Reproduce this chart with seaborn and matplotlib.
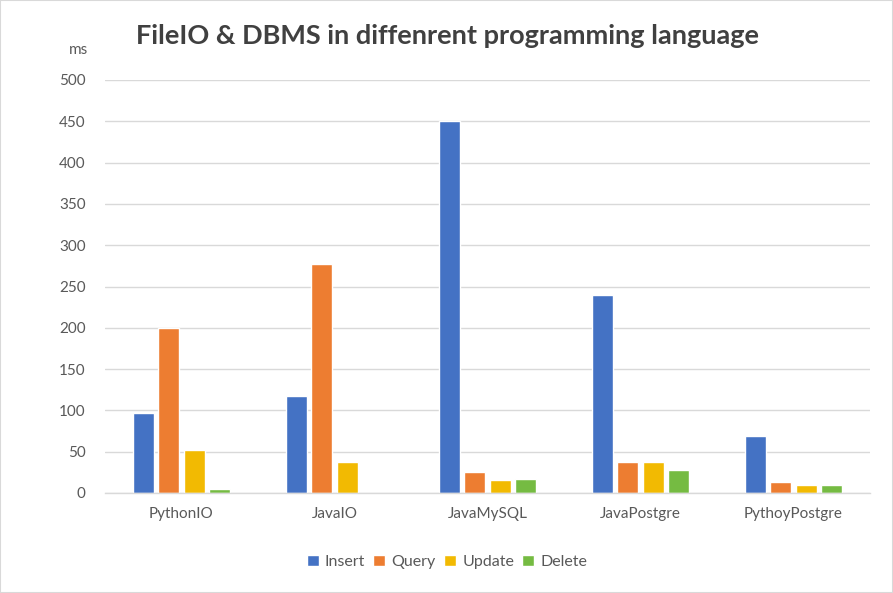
import numpy as np
import pandas as pd
import matplotlib
matplotlib.use("Agg")
import matplotlib.pyplot as plt
import seaborn as sns

categories = ["PythonIO", "JavaIO", "JavaMySQL", "JavaPostgre", "PythoyPostgre"]
operations = ["Insert", "Query", "Update", "Delete"]
insert = [97, 117, 450, 240, 69]
query = [200, 277, 26, 38, 13]
update = [52, 37, 16, 37, 10]
delete = [5, 0, 17, 28, 10]
colors = ["#4472C4", "#ED7D31", "#F2BA02", "#75BB42"]

rows = []
for op, vals in zip(operations, [insert, query, update, delete]):
    for cat, v in zip(categories, vals):
        rows.append({"category": cat, "operation": op, "ms": v})
df = pd.DataFrame(rows)

sns.set_style("white")
plt.rcParams["font.family"] = ["Lato", "DejaVu Sans"]

fig = plt.figure(figsize=(8.93, 5.93), dpi=100)
ax = fig.add_axes([105 / 893, 1 - 493 / 593, 765 / 893, 413 / 593])

sns.barplot(data=df, x="category", y="ms", hue="operation", hue_order=operations,
            palette=colors, width=0.66, gap=0.17, ax=ax, saturation=1, legend=True)

ax.set_ylim(0, 500)
ax.set_yticks(range(0, 501, 50))
ax.yaxis.grid(True, color="#d9d9d9", linewidth=1)
ax.set_axisbelow(True)
for s in ["top", "right", "left"]:
    ax.spines[s].set_visible(False)
ax.spines["bottom"].set_color("#d9d9d9")
ax.spines["bottom"].set_linewidth(1)
ax.tick_params(axis="both", length=0, colors="#595959", labelsize=11)
ax.tick_params(axis="x", pad=10)
ax.tick_params(axis="y", pad=14)
ax.set_xlabel("")
ax.set_ylabel("")

fig.text(78 / 893, 1 - 50 / 593, "ms", color="#595959", fontsize=11, ha="center", va="center")
fig.text(447 / 893, 1 - 36 / 593, "FileIO & DBMS in diffenrent programming language",
         fontsize=19.5, fontweight="bold", color="#404040", ha="center", va="center")

handles, labels = ax.get_legend_handles_labels()
ax.legend(handles, labels, loc="center", bbox_to_anchor=(447 / 893, 1 - 562 / 593),
          bbox_transform=fig.transFigure,
          ncol=4, frameon=False, fontsize=11.5, handlelength=0.75, handleheight=0.75,
          handletextpad=0.4, columnspacing=0.5, labelcolor="#595959")

fig.patches.append(plt.Rectangle((0, 0), 1, 1, transform=fig.transFigure, fill=False,
                                 edgecolor="#d9d9d9", linewidth=1.5))

fig.savefig("out.png", dpi=100)
